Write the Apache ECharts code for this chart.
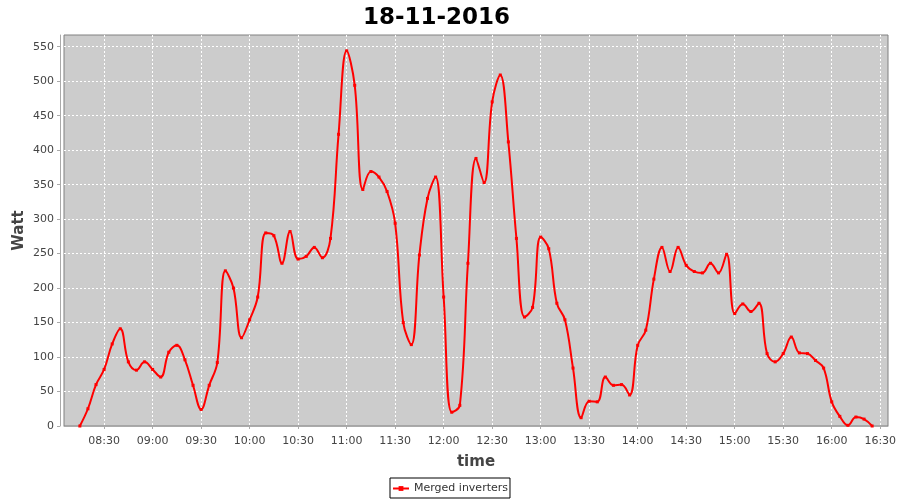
<!DOCTYPE html>
<html>
<head>
<meta charset="utf-8">
<script src="https://cdn.jsdelivr.net/npm/echarts@6/dist/echarts.min.js"></script>
<style>html,body{margin:0;padding:0;background:#fff}#c{width:900px;height:500px}</style>
</head>
<body>
<div id="c"></div>
<script>
var title = "18-11-2016";
var seriesName = "Merged inverters";
var times = ["08:15","08:20","08:25","08:30","08:35","08:40","08:45","08:50","08:55","09:00",
"09:05","09:10","09:15","09:20","09:25","09:30","09:35","09:40","09:45","09:50",
"09:55","10:00","10:05","10:10","10:15","10:20","10:25","10:30","10:35","10:40",
"10:45","10:50","10:55","11:00","11:05","11:10","11:15","11:20","11:25","11:30",
"11:35","11:40","11:45","11:50","11:55","12:00","12:05","12:10","12:15","12:20",
"12:25","12:30","12:35","12:40","12:45","12:50","12:55","13:00","13:05","13:10",
"13:15","13:20","13:25","13:30","13:35","13:40","13:45","13:50","13:55","14:00",
"14:05","14:10","14:15","14:20","14:25","14:30","14:35","14:40","14:45","14:50",
"14:55","15:00","15:05","15:10","15:15","15:20","15:25","15:30","15:35","15:40",
"15:45","15:50","15:55","16:00","16:05","16:10","16:15","16:20","16:25"];
var watts = [0,25,60,82,119,141,93,81,93,82,
71,107,117,96,59,24,59,92,225,200,
128,154,187,280,276,236,282,242,246,259,
244,272,423,544,494,343,369,361,340,294,
150,118,248,330,361,187,20,30,236,388,
353,470,509,412,272,158,172,274,257,178,
154,84,12,36,35,71,59,60,45,117,
139,213,259,224,259,233,224,222,236,222,
249,163,177,166,178,105,93,105,129,106,
105,95,84,35,14,1,13,10,0];
var yTicks = [0,50,100,150,200,250,300,350,400,450,500,550];
var xTickLabels = ["08:30","09:00","09:30","10:00","10:30","11:00","11:30","12:00","12:30","13:00","13:30","14:00","14:30","15:00","15:30","16:00","16:30"];

function toMin(s){var p=s.split(":");return (+p[0])*60+(+p[1]);}
function fmt(m){m=Math.round(m);var h=Math.floor(m/60),mm=m%60;return (h<10?"0":"")+h+":"+(mm<10?"0":"")+mm;}
var data = times.map(function(t,i){return [toMin(t), watts[i]];});
var xTicks = xTickLabels.map(toMin);
var span = toMin(times[times.length-1]) - toMin(times[0]);
var xMin = toMin(times[0]) - span*0.02, xMax = toMin(times[times.length-1]) + span*0.02;

var font = "DejaVu Sans";
var chart = echarts.init(document.getElementById('c'), null, {renderer:'canvas'});
chart.setOption({
  animation:false,
  backgroundColor:'#ffffff',
  title:{text:title,left:358,top:2,textStyle:{fontFamily:font,fontWeight:'bold',fontSize:23,color:'#000'}},
  grid:{left:64,right:12,top:35,bottom:74,show:true,backgroundColor:'#cccccc',borderColor:'#808080',borderWidth:1},
  legend:{bottom:2,left:'center',data:[seriesName],borderColor:'#000',borderWidth:1,borderRadius:0,padding:[5,2,4,2],itemWidth:16,itemHeight:6,itemGap:3,
    textStyle:{fontFamily:font,fontSize:11,color:'#333'}},
  xAxis:{type:'value',min:xMin,max:xMax,name:'time',nameLocation:'middle',nameGap:25,
    nameTextStyle:{fontFamily:font,fontSize:15,fontWeight:'bold',color:'#444'},
    offset:4,
    axisLine:{show:true,lineStyle:{color:'#aaaaaa',width:1}},
    axisTick:{show:true,length:3,customValues:xTicks,lineStyle:{color:'#aaaaaa'}},
    axisLabel:{customValues:xTicks,formatter:function(v){return fmt(v);},fontFamily:font,fontSize:11,color:'#444',margin:6},
    splitLine:{show:true,lineStyle:{color:'#ffffff',type:[2,2],width:1}}},
  yAxis:{type:'value',min:0,max:567,name:'Watt',nameLocation:'middle',nameGap:33,nameMoveOverlap:false,
    nameTextStyle:{fontFamily:font,fontSize:15,fontWeight:'bold',color:'#444'},
    offset:4,
    axisLine:{show:true,lineStyle:{color:'#aaaaaa',width:1}},
    axisTick:{show:true,length:3,customValues:yTicks,lineStyle:{color:'#aaaaaa'}},
    axisLabel:{customValues:yTicks,fontFamily:font,fontSize:11,color:'#444',margin:6},
    splitLine:{show:true,lineStyle:{color:'#ffffff',type:[2,2],width:1}}},
  series:[{name:seriesName,type:'line',data:data,smooth:0.4,
    symbol:'rect',symbolSize:3,showSymbol:true,
    lineStyle:{color:'#ff0000',width:2},itemStyle:{color:'#ff0000'}}]
});
</script>
</body>
</html>
